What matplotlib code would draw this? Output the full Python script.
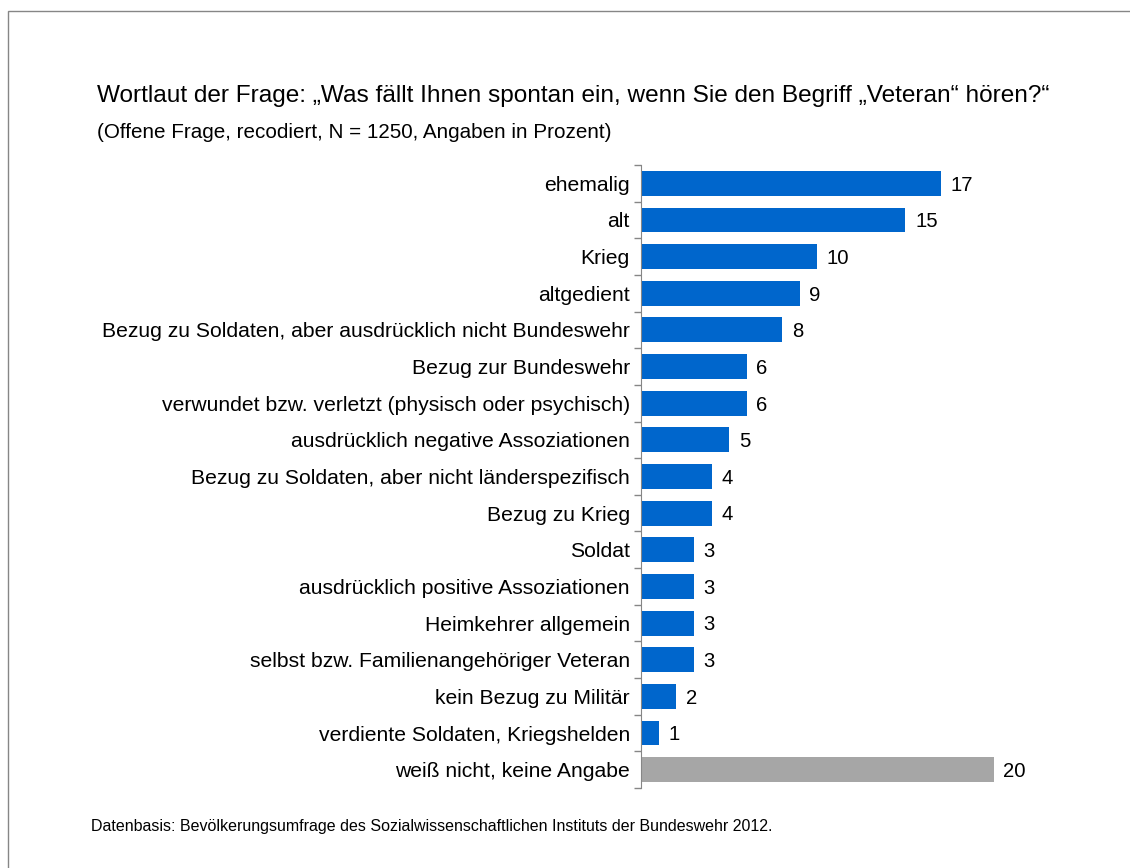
import matplotlib.pyplot as plt
from matplotlib.patches import Rectangle

plt.rcParams['font.family'] = ['Liberation Sans', 'DejaVu Sans']

categories = [
    "ehemalig",
    "alt",
    "Krieg",
    "altgedient",
    "Bezug zu Soldaten, aber ausdrücklich nicht Bundeswehr",
    "Bezug zur Bundeswehr",
    "verwundet bzw. verletzt (physisch oder psychisch)",
    "ausdrücklich negative Assoziationen",
    "Bezug zu Soldaten, aber nicht länderspezifisch",
    "Bezug zu Krieg",
    "Soldat",
    "ausdrücklich positive Assoziationen",
    "Heimkehrer allgemein",
    "selbst bzw. Familienangehöriger Veteran",
    "kein Bezug zu Militär",
    "verdiente Soldaten, Kriegshelden",
    "weiß nicht, keine Angabe",
]
values = [17, 15, 10, 9, 8, 6, 6, 5, 4, 4, 3, 3, 3, 3, 2, 1, 20]
colors = ["#0066CC"] * 16 + ["#A6A6A6"]

fig = plt.figure(figsize=(11.3, 8.68), dpi=100)
ax = fig.add_axes([641 / 1130, 1 - 788 / 868, (1064 - 641) / 1130, (788 - 165) / 868])

y = list(range(len(categories)))
ax.barh(y, values, height=0.68, color=colors, edgecolor="none")
ax.set_ylim(len(categories) - 0.5, -0.5)
ax.set_xlim(0, 24)

# value labels right of each bar
for yi, v in zip(y, values):
    ax.text(v + 0.55, yi + 0.05, str(v), va="center", ha="left", fontsize=14.6)

ax.set_yticks(y)
ax.set_yticklabels(categories, fontsize=15.2)
ax.set_yticks([i - 0.5 for i in range(len(categories) + 1)], minor=True)
ax.tick_params(axis="y", which="major", length=0, pad=8)
ax.tick_params(axis="y", which="minor", length=5, color="#868686", width=1)
ax.set_xticks([])
for s in ["top", "right", "bottom"]:
    ax.spines[s].set_visible(False)
ax.spines["left"].set_color("#868686")

fig.text(97 / 1130, 1 - 96 / 868, "Wortlaut der Frage: „Was fällt Ihnen spontan ein, wenn Sie den Begriff „Veteran“ hören?“",
         fontsize=17.55, va="center", ha="left")
fig.text(97 / 1130, 1 - 132 / 868, "(Offene Frage, recodiert, N = 1250, Angaben in Prozent)",
         fontsize=14.9, va="center", ha="left")
fig.text(91 / 1130, 1 - 827 / 868, "Datenbasis: Bevölkerungsumfrage des Sozialwissenschaftlichen Instituts der Bundeswehr 2012.",
         fontsize=11.5, va="center", ha="left")

# outer frame, open past the right and bottom edges
fig.patches.append(Rectangle((8 / 1130, -0.1), 1.2, 1 - 11 / 868 + 0.1, transform=fig.transFigure,
                             fill=False, edgecolor="#868686", linewidth=1))

fig.savefig("out.png", dpi=100)
